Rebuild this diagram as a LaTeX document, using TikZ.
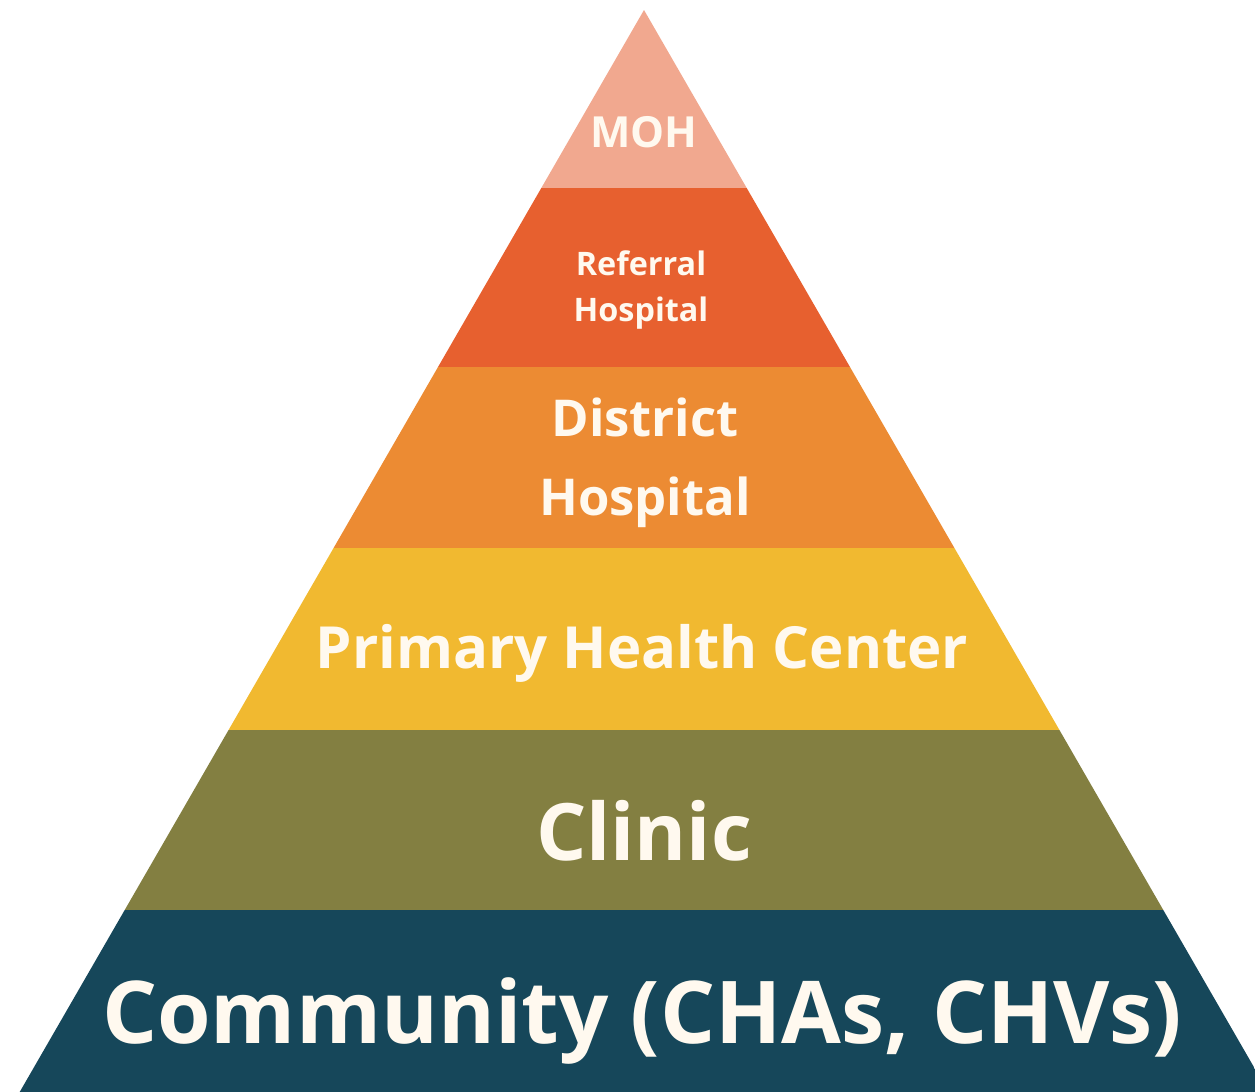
\documentclass[tikz,border=0pt]{standalone}
\usepackage{fontspec}
\setmainfont{Open Sans}
\usepackage{tikz}

\definecolor{mohcol}{HTML}{F1A88F}
\definecolor{refcol}{HTML}{E7602F}
\definecolor{distcol}{HTML}{EC8B33}
\definecolor{phccol}{HTML}{F1B930}
\definecolor{cliniccol}{HTML}{837F41}
\definecolor{commcol}{HTML}{16475A}
\definecolor{labelcol}{HTML}{FFF9EF}

\tikzset{
  tier/.style={text=labelcol, align=center, inner sep=0pt},
}

\begin{document}
\begin{tikzpicture}[x=1bp, y=-1bp]

\useasboundingbox (0,0) rectangle (1255,1092);

\begin{scope}
\clip (644,10) -- (19.7,1092) -- (1268.3,1092) -- cycle;
\fill[mohcol] (0,0) rectangle (1255,188);
\fill[refcol] (0,188) rectangle (1255,367);
\fill[distcol] (0,367) rectangle (1255,548);
\fill[phccol] (0,548) rectangle (1255,730);
\fill[cliniccol] (0,730) rectangle (1255,910);
\fill[commcol] (0,910) rectangle (1255,1092);
\end{scope}

\node[tier, font=\bfseries\fontsize{43}{48}\selectfont] (moh) at (644,132) {MOH};
\node[tier, font=\bfseries\fontsize{32.5}{46}\selectfont] (referral) at (641,290) {Referral\\Hospital};
\node[tier, font=\bfseries\fontsize{51}{79}\selectfont] (district) at (645,463) {District\\Hospital};
\node[tier, font=\bfseries\fontsize{58.3}{64}\selectfont] (phc) at (642,653) {Primary Health Center};
\node[tier, font=\bfseries\fontsize{79.5}{84}\selectfont] (clinic) at (644,831) {Clinic};
\node[tier, font=\bfseries\fontsize{87}{92}\selectfont] (community) at (642,1021) {Community (CHAs, CHVs)};

%% \draw (644,10) -- (19.7,1092);

\end{tikzpicture}
\end{document}
